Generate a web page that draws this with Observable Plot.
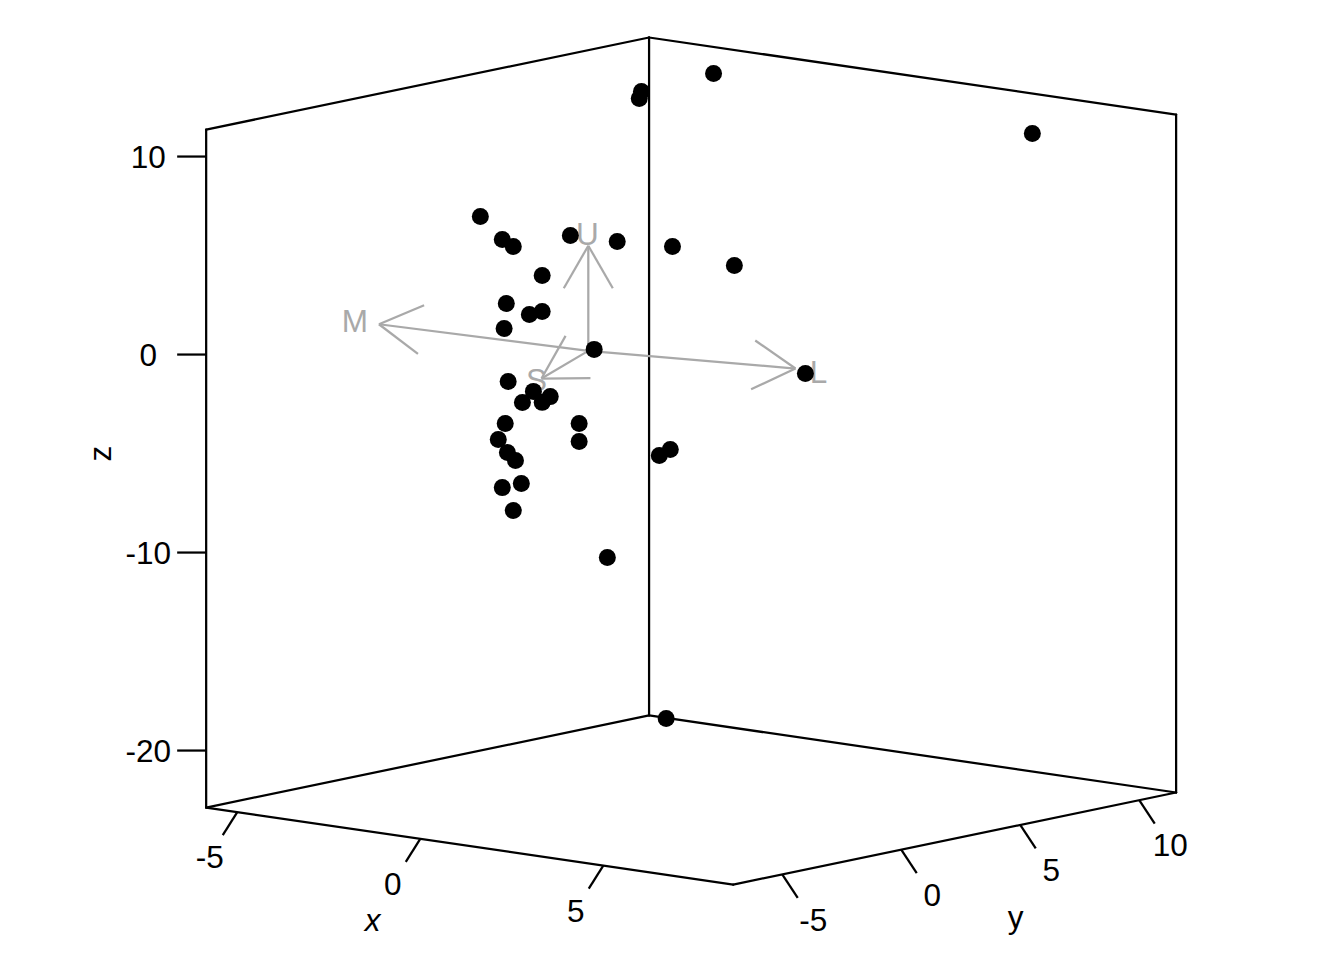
<!DOCTYPE html>
<html>
<head>
<meta charset="utf-8">
<script src="https://cdn.jsdelivr.net/npm/d3@7"></script>
<script src="https://cdn.jsdelivr.net/npm/@observablehq/plot@0.6"></script>
<style>html,body{margin:0;padding:0;background:#fff}svg{display:block}</style>
</head>
<body>
<div id="chart"></div>
<script>
// Data values (depth along y is an estimate: only two screen dimensions can be read)
const pointX = [-2.04,-3.75,-3.81,6.28,-2.95,-2.35,-2.05,-0.49,0.79,2.30,2.04,-1.26,-2.24,-1.26,-1.61,-2.30,0.16,2.68,-2.19,-1.50,-1.04,-1.26,-1.80,-2.27,-0.25,-2.46,-0.25,-2.21,-1.99,2.24,1.94,-1.83,-2.35,-2.05,0.52,-4.70];
const pointY = [8.4,8,8,9,0,0,0,0,0,0,3,0,0,0,0,0,0,5,0,0,0,0,0,0,0,0,0,0,0,0,0,0,0,0,0,10.5];
const pointZ = [11.36,10.09,9.72,10.43,5.99,4.99,4.72,5.70,5.74,5.89,4.11,3.47,1.79,1.65,1.40,0.51,0.12,-1.67,-2.14,-2.45,-2.59,-2.94,-3.09,-4.28,-3.73,-5.14,-4.64,-5.73,-6.07,-4.37,-4.76,-7.19,-7.54,-8.62,-10.29,-22.46];

const arrowNames = ["L","M","U","S"];
const arrowX = [5.66,-5.72,0,-1.28];
const arrowY = [0,0,0,0];
const arrowZ = [0.64,-0.20,5.31,-1.74];

const xTicks = [-5,0,5];
const yTicks = [-5,0,5,10];
const zTicks = [-20,-10,0,10];
const xLim = [-5.85,8.55];
const yLim = [-7.06,11.55];
const zLim = [-22.88,11.36];

// Orthographic view
const view = {ox:587.8, oy:350.4, xh:36.6, yh:23.8, xv:5.35, yv:-4.95, zv:-19.8};
const sx = (x,y) => view.ox + view.xh*x + view.yh*y;
const sy = (x,y,z) => view.oy + view.xv*x + view.yv*y + view.zv*z;
const P = (x,y,z) => [sx(x,y), sy(x,y,z)];

const points = pointX.map((x,i)=>P(x,pointY[i],pointZ[i]));

// Box
const [x0,x1]=xLim,[y0,y1]=yLim,[z0,z1]=zLim;
const edges = [
  [[x0,y0,z0],[x1,y0,z0]],[[x1,y0,z0],[x1,y1,z0]],[[x1,y1,z0],[x0,y1,z0]],[[x0,y1,z0],[x0,y0,z0]],
  [[x0,y0,z1],[x0,y1,z1]],[[x0,y1,z1],[x1,y1,z1]],
  [[x0,y0,z0],[x0,y0,z1]],[[x0,y1,z0],[x0,y1,z1]],[[x1,y1,z0],[x1,y1,z1]]
].map(([a,b])=>[P(...a),P(...b)]);

// Ticks and tick labels
const ticks = [
  ...xTicks.map(v=>({p:P(v,y0,z0),dx:-14.5,dy:23,lx:-27.5,ly:46,t:String(v)})),
  ...yTicks.map(v=>({p:P(x1,v,z0),dx:15.5,dy:23.5,lx:31,ly:46,t:String(v)})),
  ...zTicks.map(v=>({p:P(x0,y0,v),dx:-29,dy:0,lx:-58,ly:1,t:String(v)}))
];

// Arrows: shafts and heads (heads are drawn on the page plane)
const origin = P(0,0,0);
const tips = arrowX.map((x,i)=>P(x,arrowY[i],arrowZ[i]));
const headLen = 49, headAngle = 30*Math.PI/180;
const barbs = tips.flatMap(t=>{
  const a = Math.atan2(origin[1]-t[1],origin[0]-t[0]);
  return [-1,1].map(s=>[t,[t[0]+headLen*Math.cos(a+s*headAngle),t[1]+headLen*Math.sin(a+s*headAngle)]]);
});
const labelOffset = {L:[23,4],M:[-24,-2],U:[-1,-11],S:[-5,2]};
const arrowLabels = arrowNames.map((n,i)=>({n,p:[tips[i][0]+labelOffset[n][0],tips[i][1]+labelOffset[n][1]]}));

const seg = (data,o)=>Plot.link(data,{x1:d=>d[0][0],y1:d=>d[0][1],x2:d=>d[1][0],y2:d=>d[1][1],...o});
const font = 31.5;

const plot = Plot.plot({
  width:1344,height:960,margin:0,
  style:{fontFamily:"'Liberation Sans',Arial,sans-serif",background:"#fff"},
  x:{domain:[0,1344],range:[0,1344],axis:null},
  y:{domain:[0,960],range:[0,960],axis:null},
  marks:[
    seg(edges,{stroke:"#000",strokeWidth:2.25,strokeLinecap:"round"}),
    Plot.link(ticks,{x1:d=>d.p[0],y1:d=>d.p[1],x2:d=>d.p[0]+d.dx,y2:d=>d.p[1]+d.dy,stroke:"#000",strokeWidth:2.25}),
    Plot.text(ticks,{x:d=>d.p[0]+d.lx,y:d=>d.p[1]+d.ly,text:d=>d.t,fontSize:font,fill:"#000",textAnchor:"middle",lineAnchor:"middle"}),
    Plot.text(["x"],{x:[372],y:[920],text:d=>d,fontSize:font,fontStyle:"italic",fill:"#000",textAnchor:"middle",lineAnchor:"middle"}),
    Plot.text(["y"],{x:[1015],y:[917],text:d=>d,fontSize:font,fill:"#000",textAnchor:"middle",lineAnchor:"middle"}),
    Plot.text(["z"],{x:[100],y:[453],text:d=>d,fontSize:font,fill:"#000",textAnchor:"middle",lineAnchor:"middle",rotate:-90}),
    seg(tips.map(t=>[origin,t]),{stroke:"#a9a9a9",strokeWidth:2.25}),
    seg(barbs,{stroke:"#a9a9a9",strokeWidth:2.25}),
    Plot.text(arrowLabels,{x:d=>d.p[0],y:d=>d.p[1],text:d=>d.n,fontSize:font,fill:"#a9a9a9",textAnchor:"middle",lineAnchor:"middle"}),
    Plot.dot(points,{x:d=>d[0],y:d=>d[1],r:8.5,fill:"#000",stroke:"none"})
  ]
});
document.getElementById("chart").append(plot);
</script>
</body>
</html>
